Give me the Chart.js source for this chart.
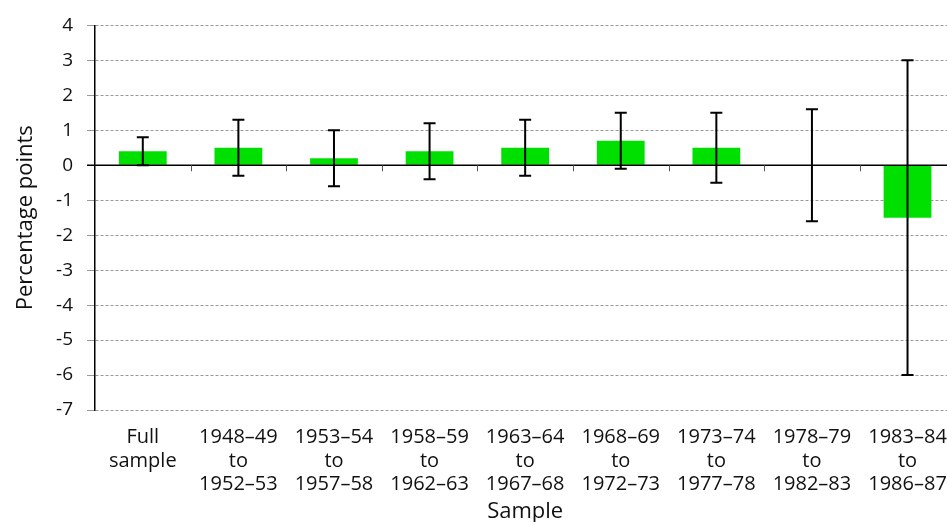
<!DOCTYPE html>
<html>
<head>
<meta charset="UTF-8">
<title>Sample estimates</title>
<script src="https://cdn.jsdelivr.net/npm/chart.js"></script>
<style>
    html, body { margin: 0; padding: 0; overflow: hidden; background: #fff; }
    #box { width: 963px; height: 522px; }
</style>
</head>
<body>
<div id="box"><canvas id="myChart"></canvas></div>

<script>
    // data
    const categories = [
        ['Full', 'sample'],
        ['1948–49', 'to', '1952–53'],
        ['1953–54', 'to', '1957–58'],
        ['1958–59', 'to', '1962–63'],
        ['1963–64', 'to', '1967–68'],
        ['1968–69', 'to', '1972–73'],
        ['1973–74', 'to', '1977–78'],
        ['1978–79', 'to', '1982–83'],
        ['1983–84', 'to', '1986–87']
    ];
    const estimates = [0.4, 0.5, 0.2, 0.4, 0.5, 0.7, 0.5, 0, -1.5];
    const lowerBound = [0, -0.3, -0.6, -0.4, -0.3, -0.1, -0.5, -1.6, -6];
    const upperBound = [0.8, 1.3, 1.0, 1.2, 1.3, 1.5, 1.5, 1.6, 3];
    const yMin = -7, yMax = 4;

    const fontFamily = "'Open Sans', 'Noto Sans', sans-serif";

    // zero line, category ticks on it, and error bars
    const extrasPlugin = {
        id: 'extras',
        afterDatasetsDraw(chart) {
            const {ctx, scales: {x, y}, chartArea} = chart;
            const y0 = y.getPixelForValue(0);

            ctx.save();
            // zero line
            ctx.strokeStyle = '#000';
            ctx.lineWidth = 1.5;
            ctx.beginPath();
            ctx.moveTo(chartArea.left - 8, y0);
            ctx.lineTo(chartArea.right, y0);
            ctx.stroke();

            // ticks between categories
            ctx.strokeStyle = '#555';
            ctx.lineWidth = 1;
            for (let i = 1; i < categories.length; i++) {
                const xb = (x.getPixelForValue(i - 1) + x.getPixelForValue(i)) / 2;
                ctx.beginPath();
                ctx.moveTo(Math.round(xb) + 0.5, y0);
                ctx.lineTo(Math.round(xb) + 0.5, y0 + 6);
                ctx.stroke();
            }

            // error bars
            ctx.strokeStyle = '#000';
            ctx.lineWidth = 2;
            const cap = 6;
            categories.forEach((c, i) => {
                const xc = x.getPixelForValue(i);
                const yl = y.getPixelForValue(lowerBound[i]);
                const yu = y.getPixelForValue(upperBound[i]);
                ctx.beginPath();
                ctx.moveTo(xc, yl);
                ctx.lineTo(xc, yu);
                ctx.moveTo(xc - cap, yl);
                ctx.lineTo(xc + cap, yl);
                ctx.moveTo(xc - cap, yu);
                ctx.lineTo(xc + cap, yu);
                ctx.stroke();
            });
            ctx.restore();
        }
    };

    const chartCanvas = document.getElementById('myChart');

    new Chart(chartCanvas, {
        type: 'bar',
        data: {
            labels: categories,
            datasets: [{
                data: estimates,
                backgroundColor: '#00e000',
                borderWidth: 0,
                barPercentage: 0.5,
                categoryPercentage: 1
            }]
        },
        options: {
            responsive: true,
            maintainAspectRatio: false,
            animation: false,
            layout: { padding: { top: 12, right: 3, left: 0, bottom: 0 } },
            plugins: {
                legend: { display: false },
                tooltip: { enabled: false }
            },
            scales: {
                x: {
                    grid: { display: false, drawTicks: false },
                    border: { display: false },
                    ticks: {
                        color: '#111',
                        padding: 16,
                        maxRotation: 0,
                        autoSkip: false,
                        font: { family: fontFamily, size: 20, lineHeight: 1.17 }
                    },
                    title: {
                        display: true,
                        text: 'Sample',
                        color: '#111',
                        padding: { top: 0, bottom: 0 },
                        font: { family: fontFamily, size: 22, lineHeight: 0.9 }
                    },
                    afterFit(scale) { scale.height = 112; }
                },
                y: {
                    min: yMin,
                    max: yMax,
                    ticks: {
                        stepSize: 1,
                        color: '#111',
                        padding: 14,
                        font: { family: fontFamily, size: 19 }
                    },
                    grid: {
                        color: ctx => ctx.tick && ctx.tick.value === 0 ? 'rgba(0,0,0,0)' : '#999',
                        tickColor: ctx => ctx.tick && ctx.tick.value === 0 ? '#000' : '#999',
                        tickLength: 8,
                        lineWidth: 1
                    },
                    border: { display: true, color: '#000', width: 1.5, dash: [3, 2] },
                    title: {
                        display: true,
                        text: 'Percentage points',
                        color: '#111',
                        padding: { top: 13, bottom: 0 },
                        font: { family: fontFamily, size: 22, lineHeight: 1.2 }
                    },
                    afterFit(scale) { scale.width = 95; }
                }
            }
        },
        plugins: [extrasPlugin]
    });
</script>
</body>
</html>
